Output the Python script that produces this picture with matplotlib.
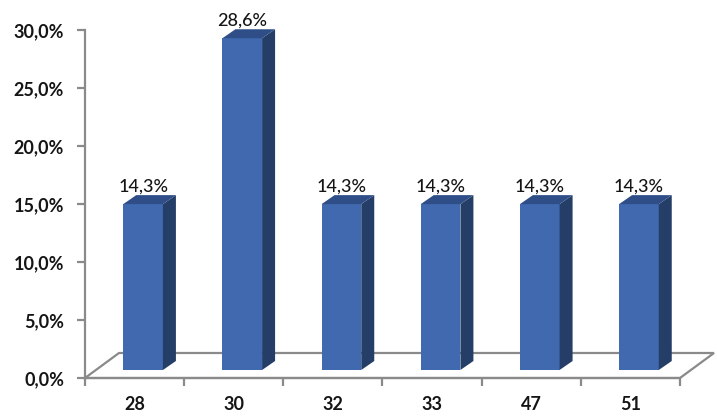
import matplotlib
matplotlib.use("Agg")
import matplotlib.pyplot as plt
from matplotlib.patches import Polygon

# data
ages = ["28", "30", "32", "33", "47", "51"]
shares = [14.3, 28.6, 14.3, 14.3, 14.3, 14.3]
y_ticks = [0, 5, 10, 15, 20, 25, 30]
y_tick_labels = ["0,0%", "5,0%", "10,0%", "15,0%", "20,0%", "25,0%", "30,0%"]

plt.rcParams['font.family'] = ['Lato', 'DejaVu Sans']

W, H = 717, 417
fig = plt.figure(figsize=(W / 100, H / 100), dpi=100)
# axes box in pixels: front plane of the 3d chart
left, right, bottom, top = 85, 680, 378, 30
ax = fig.add_axes([left / W, (H - bottom) / H, (right - left) / W, (bottom - top) / H])
ax.set_xlim(-0.5, len(ages) - 0.5)
ax.set_ylim(0, 30)

# pixel -> data unit conversion
px_x = (len(ages)) / (right - left)
px_y = 30 / (bottom - top)

grey = "#8a8a8a"
front_col = "#4069af"
top_col = "#2f4e88"
side_col = "#243e68"

# floor (drawn behind bars)
fdx, fdy = 34 * px_x, 25 * px_y
x0, x1 = -0.5, len(ages) - 0.5
floor = Polygon([(x0, 0), (x1, 0), (x1 + fdx, fdy), (x0 + fdx, fdy)],
                closed=True, facecolor="white", edgecolor=grey, lw=1.6,
                clip_on=False, zorder=1)
ax.add_patch(floor)

# bars: shifted into the floor depth
sx, sy = 8.5 * px_x, 8 * px_y
bw = 0.40
ddx, ddy = 13 * px_x, 9 * px_y
for i, v in enumerate(shares):
    xl = i - bw / 2 + sx
    xr = i + bw / 2 + sx
    yb = sy
    yt = v + sy
    front = Polygon([(xl, yb), (xr, yb), (xr, yt), (xl, yt)],
                    facecolor=front_col, edgecolor="none", clip_on=False, zorder=3)
    side = Polygon([(xr, yb), (xr + ddx, yb + ddy), (xr + ddx, yt + ddy), (xr, yt)],
                   facecolor=side_col, edgecolor="none", clip_on=False, zorder=3)
    topf = Polygon([(xl, yt), (xr, yt), (xr + ddx, yt + ddy), (xl + ddx, yt + ddy)],
                   facecolor=top_col, edgecolor="none", clip_on=False, zorder=3)
    for p in (front, side, topf):
        ax.add_patch(p)
    ax.annotate(f"{v:.1f}".replace(".", ",") + "%", (i, v),
                xytext=(8.5, 21), textcoords="offset pixels",
                ha="center", va="baseline", fontsize=13, fontweight="medium",
                color="#151515", annotation_clip=False, zorder=4)

# axes styling
for s in ("top", "right"):
    ax.spines[s].set_visible(False)
for s in ("left", "bottom"):
    ax.spines[s].set_color(grey)
    ax.spines[s].set_linewidth(1.6)
ax.patch.set_visible(False)

ax.set_yticks(y_ticks)
ax.set_yticklabels(y_tick_labels, fontsize=13, fontweight="bold", color="#151515")
ax.tick_params(axis="y", length=6, width=1.6, color=grey, pad=9)

ax.set_xticks([i - 0.5 for i in range(len(ages) + 1)])
ax.set_xticklabels([])
ax.set_xticks(range(len(ages)), minor=True)
ax.set_xticklabels(ages, minor=True, fontsize=13, fontweight="bold", color="#151515")
ax.tick_params(axis="x", which="major", length=6, width=1.6, color=grey)
ax.tick_params(axis="x", which="minor", length=0, pad=13)

fig.savefig("out.png", dpi=100)
